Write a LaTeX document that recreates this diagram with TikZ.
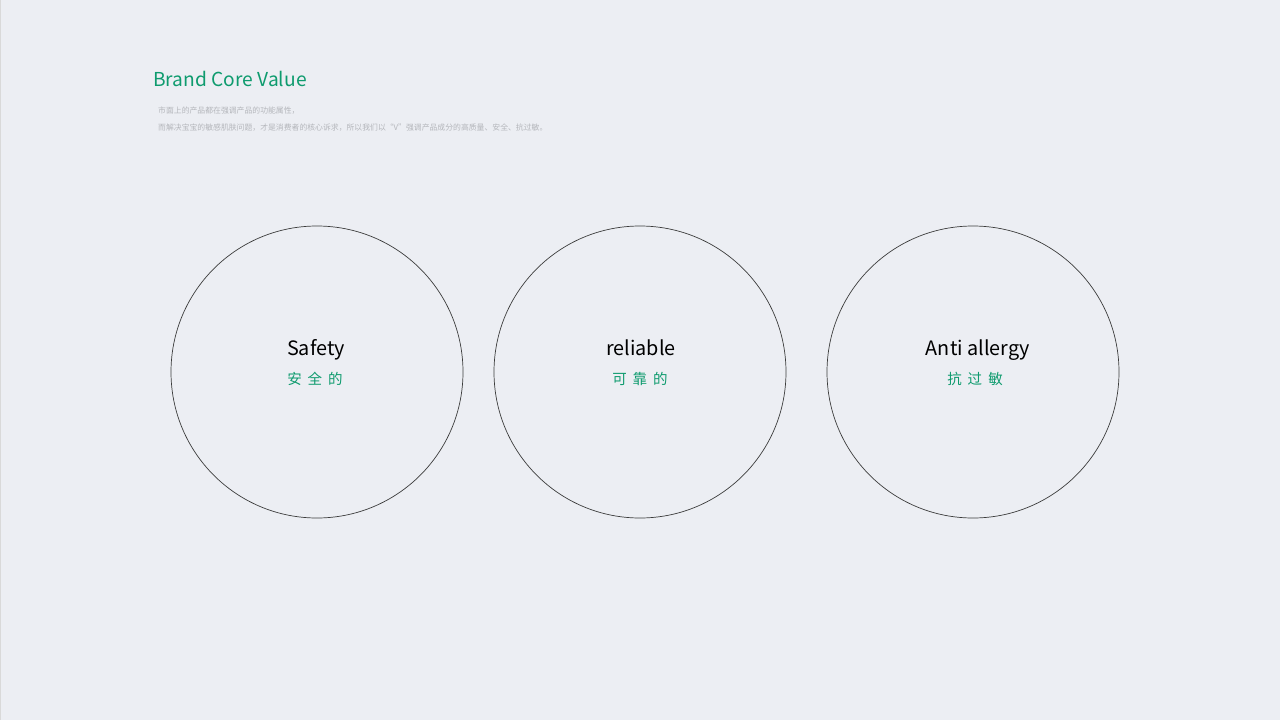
\documentclass[tikz,border=0pt]{standalone}
\usepackage{fontspec}
\setmainfont{Noto Sans CJK SC}
\usepackage{tikz}
\usetikzlibrary{positioning}
\definecolor{paper}{RGB}{236,238,243}
\definecolor{brandgreen}{RGB}{14,155,110}
\definecolor{note}{RGB}{180,182,187}
\definecolor{ringline}{RGB}{60,60,60}
\tikzstyle{ring} = [draw=ringline, line width=0.7pt, circle, minimum size=292pt, inner sep=0pt]
\tikzstyle{word} = [inner sep=0pt, anchor=base, font=\fontsize{19.8}{22}\selectfont, text=black]
\tikzstyle{hanzi} = [inner sep=0pt, font=\fontsize{14.5}{16}\selectfont, text=brandgreen]
\tikzstyle{note} = [inner sep=0pt, anchor=base west, font=\fontsize{7.85}{9}\selectfont, text=note]
\newcommand{\spread}[3]{#1\hspace{6pt}#2\hspace{6pt}#3}

\begin{document}
\begin{tikzpicture}[x=1pt, y=-1pt]
  \fill [paper] (0,0) rectangle (1280,720);
  \useasboundingbox (0,0) rectangle (1280,720);
  \draw [white!85!black, line width=1pt] (0.5,0) -- (0.5,720);

  % heading
  \node [inner sep=0pt, anchor=base west, font=\fontsize{19.2}{21}\selectfont, text=brandgreen] (title) at (153,86) {Brand Core Value};
  \node [note] (line1) at (158,113) {市面上的产品都在强调产品的功能属性，};
  \node [note] (line2) at (158,130) {而解决宝宝的敏感肌肤问题，才是消费者的核心诉求，所以我们以“V”强调产品成分的高质量、安全、抗过敏。};

  % three circles
  \node [ring] (ringa) at (317,372) {};
  \node [ring] (ringb) at (640,372) {};
  \node [ring] (ringc) at (973,372) {};

  \node [word] (safety) at (316,355) {Safety};
  \node [hanzi] (anquan) at (315,379) {\spread{安}{全}{的}};

  \node [word] (reliable) at (641,355) {reliable};
  \node [hanzi] (kekao) at (640,379) {\spread{可}{靠}{的}};

  \node [word] (antiallergy) at (978,355) {Anti allergy};
  \node [hanzi] (kangguomin) at (975,379) {\spread{抗}{过}{敏}};
\end{tikzpicture}
\end{document}
